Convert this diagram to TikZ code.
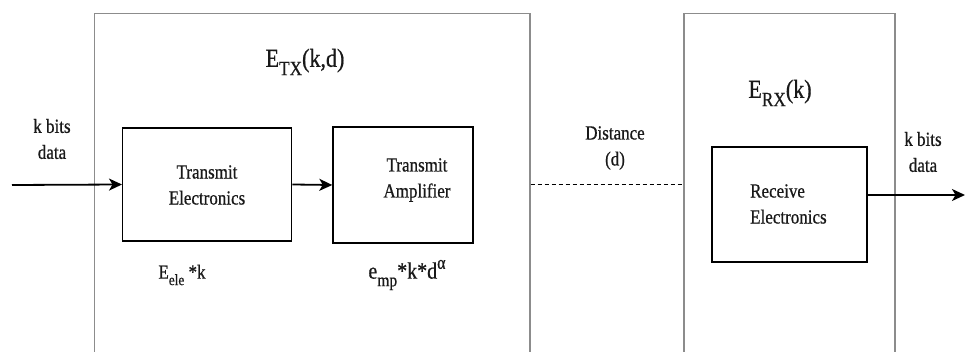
\documentclass[tikz,border=0pt]{standalone}
\usepackage{fontspec}
\setmainfont{Liberation Serif}[FakeStretch=0.85,
  BoldFont=Liberation Serif, BoldFeatures={FakeBold=0.7}]
\usetikzlibrary{arrows.meta}
\definecolor{framegray}{HTML}{8C8C8C}
\newcommand{\lowsub}[1]{\raisebox{-0.32em}{\scalebox{0.78}{#1}}}
\newcommand{\highsup}[1]{\raisebox{0.42em}{\scalebox{0.8}{#1}}}
\begin{document}
\begin{tikzpicture}[x=1pt,y=-1pt,
  outerframe/.style={draw=framegray, line width=1.4pt, rectangle, inner sep=0pt},
  block/.style={draw=black, line width=1.4pt, rectangle, inner sep=0pt},
  txt/.style={font=\fontsize{20}{26}\selectfont\bfseries, align=center, inner sep=0pt, text=black!90},
  bigtxt/.style={font=\fontsize{26}{28}\selectfont\bfseries, inner sep=0pt, text=black!90},
  flow/.style={line width=1.8pt, -{Stealth[length=13pt,width=12pt,inset=3.5pt]}},
  link/.style={line width=1.3pt, dash pattern=on 4pt off 3pt}]
\useasboundingbox (0,0) rectangle (967,352);
\clip (0,0) rectangle (967,352);

% transmitter and receiver enclosures (open at the bottom edge)
\node[outerframe, minimum width=435.5pt, minimum height=366.5pt] (txframe) at (312.25,196.75) {};
\node[outerframe, minimum width=211pt, minimum height=366.5pt] (rxframe) at (789.5,196.75) {};

% functional blocks
\node[block, minimum width=169pt, minimum height=113pt] (te) at (207.2,184.5) {};
\node[block, minimum width=140pt, minimum height=116pt] (ta) at (403,185) {};
\node[block, minimum width=155pt, minimum height=115pt] (re) at (789.5,204.5) {};

% labels
\node[txt] (telab) at (207,185) {Transmit\\Electronics};
\node[txt] (talab) at (417,180) {Transmit\\Amplifier};
\node[txt, align=left, anchor=west] (relab) at (750,204) {Receive\\Electronics};
\node[txt] (kin) at (52,139) {k bits\\data};
\node[txt] (kout) at (923,152) {k bits\\data};
\node[txt] (dist) at (615,148) {Distance\\(d)};
\node[bigtxt] (etx) at (305,62) {E\lowsub{TX}(k,d)};
\node[bigtxt] (erx) at (780,93) {E\lowsub{RX}(k)};
\node[txt] (eele) at (182,275) {E\lowsub{ele} *k};
\node[txt, font=\fontsize{23.5}{26}\selectfont\bfseries] (emp) at (407,275) {e\lowsub{mp}*k*d\highsup{α}};

% connectors
\coordinate (src) at (12,185);
\coordinate (sink) at (965,195);
\draw[flow] (src) -- (te.west);
\draw[flow] (te.east) -- (ta.west);
\draw[link] (txframe.east |- te.east) -- (rxframe.west |- te.east);
\draw[flow] (re.east |- sink) -- (sink);
\end{tikzpicture}
\end{document}
